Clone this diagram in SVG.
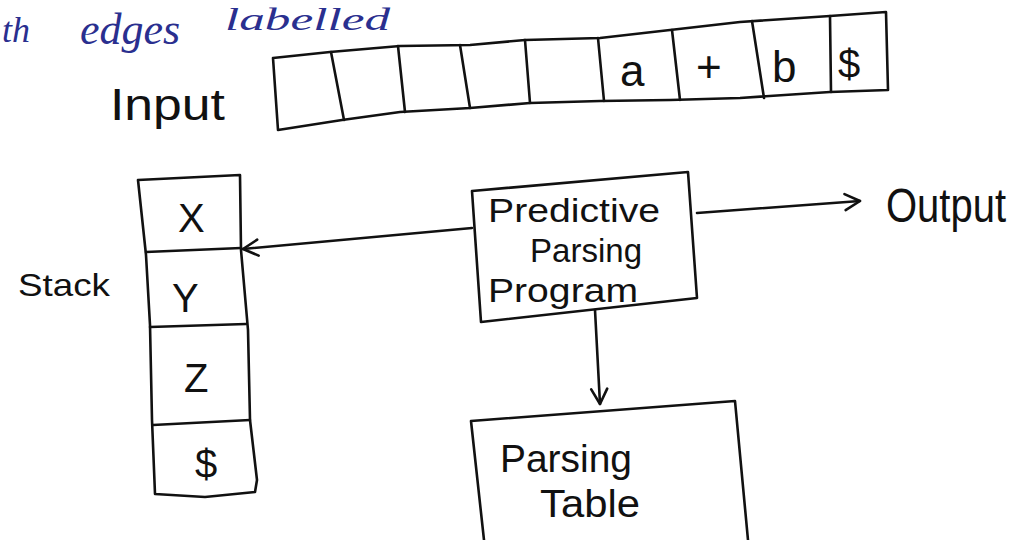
<svg xmlns="http://www.w3.org/2000/svg" width="1033" height="540" viewBox="0 0 1033 540">
  <style>
    .ink { fill: none; stroke: #111; stroke-width: 2.6; stroke-linecap: round; stroke-linejoin: round; }
    .hand { font-family: "Liberation Sans", "DejaVu Sans", sans-serif; fill: #111; }
    .blue { font-family: "Liberation Serif", "DejaVu Serif", serif; font-style: italic; fill: #2a2f8f; }
  </style>
  <defs>
    <marker id="open" viewBox="0 0 20 20" refX="17" refY="10" markerWidth="20" markerHeight="20" markerUnits="userSpaceOnUse" orient="auto">
      <path d="M2,2 L17,10 L2,18" fill="none" stroke="#111" stroke-width="2.6" stroke-linecap="round" stroke-linejoin="round"/>
    </marker>
  </defs>
  <rect width="1033" height="540" fill="#fff"/>

  <!-- heading line at the top edge -->
  <text class="blue" x="2" y="42" font-size="36">th</text>
  <text class="blue" x="80" y="44" font-size="44">edges</text>
  <text class="blue" x="225" y="30" font-size="32" textLength="165" lengthAdjust="spacingAndGlyphs">labelled</text>

  <!-- input tape -->
  <g id="input">
    <text class="hand" x="110" y="120" font-size="44" textLength="115" lengthAdjust="spacingAndGlyphs">Input</text>
    <path class="ink" d="M273,58 L330,52 L400,46 L470,45 L525,40 L600,38 L670,30 L740,22 L830,16 L886,12 L888,90 L830,92 L740,98 L670,100 L600,101 L530,103 L470,108 L400,112 L342,120 L278,130 Z"/>
    <path class="ink" d="M331,52 L344,120 M398,46 L405,112 M460,45 L470,108 M525,40 L530,103 M598,38 L604,101 M672,30 L680,100 M752,21 L764,98 M830,16 L831,92"/>
    <text class="hand" x="620" y="86" font-size="44">a</text>
    <text class="hand" x="696" y="82" font-size="44">+</text>
    <text class="hand" x="772" y="82" font-size="44">b</text>
    <text class="hand" x="838" y="78" font-size="40">$</text>
  </g>

  <!-- stack -->
  <g id="stack">
    <text class="hand" x="18" y="296" font-size="32" textLength="92" lengthAdjust="spacingAndGlyphs">Stack</text>
    <path class="ink" d="M138,180 L240,175 L241,250 L248,330 L250,420 L257,480 L255,492 L205,497 L155,494 L152,420 L150,325 L146,255 Z"/>
    <path class="ink" d="M146,252 L241,248 M150,327 L246,324 M153,425 L250,420"/>
    <text class="hand" x="178" y="232" font-size="40">X</text>
    <text class="hand" x="172" y="312" font-size="40">Y</text>
    <text class="hand" x="184" y="392" font-size="40">Z</text>
    <text class="hand" x="195" y="478" font-size="40">$</text>
  </g>

  <!-- predictive parsing program -->
  <g id="program">
    <path class="ink" d="M472,191 L688,172 L697,298 L481,322 Z"/>
    <text class="hand" x="488" y="222" font-size="34" textLength="172" lengthAdjust="spacingAndGlyphs">Predictive</text>
    <text class="hand" x="530" y="262" font-size="34" textLength="112" lengthAdjust="spacingAndGlyphs">Parsing</text>
    <text class="hand" x="488" y="302" font-size="34" textLength="150" lengthAdjust="spacingAndGlyphs">Program</text>
  </g>

  <!-- output label -->
  <g id="output">
    <text class="hand" x="886" y="222" font-size="48" textLength="120" lengthAdjust="spacingAndGlyphs">Output</text>
  </g>

  <!-- parsing table -->
  <g id="table">
    <path class="ink" d="M471,421 L735,401 L748,540 M484,540 L471,421"/>
    <text class="hand" x="500" y="472" font-size="38" textLength="132" lengthAdjust="spacingAndGlyphs">Parsing</text>
    <text class="hand" x="540" y="517" font-size="38" textLength="100" lengthAdjust="spacingAndGlyphs">Table</text>
  </g>

  <!-- connectors -->
  <g id="connectors">
    <path class="ink" d="M472,228 L243,249" marker-end="url(#open)"/>
    <path class="ink" d="M697,213 L860,201" marker-end="url(#open)"/>
    <path class="ink" d="M595,310 L600,404" marker-end="url(#open)"/>
  </g>
</svg>
